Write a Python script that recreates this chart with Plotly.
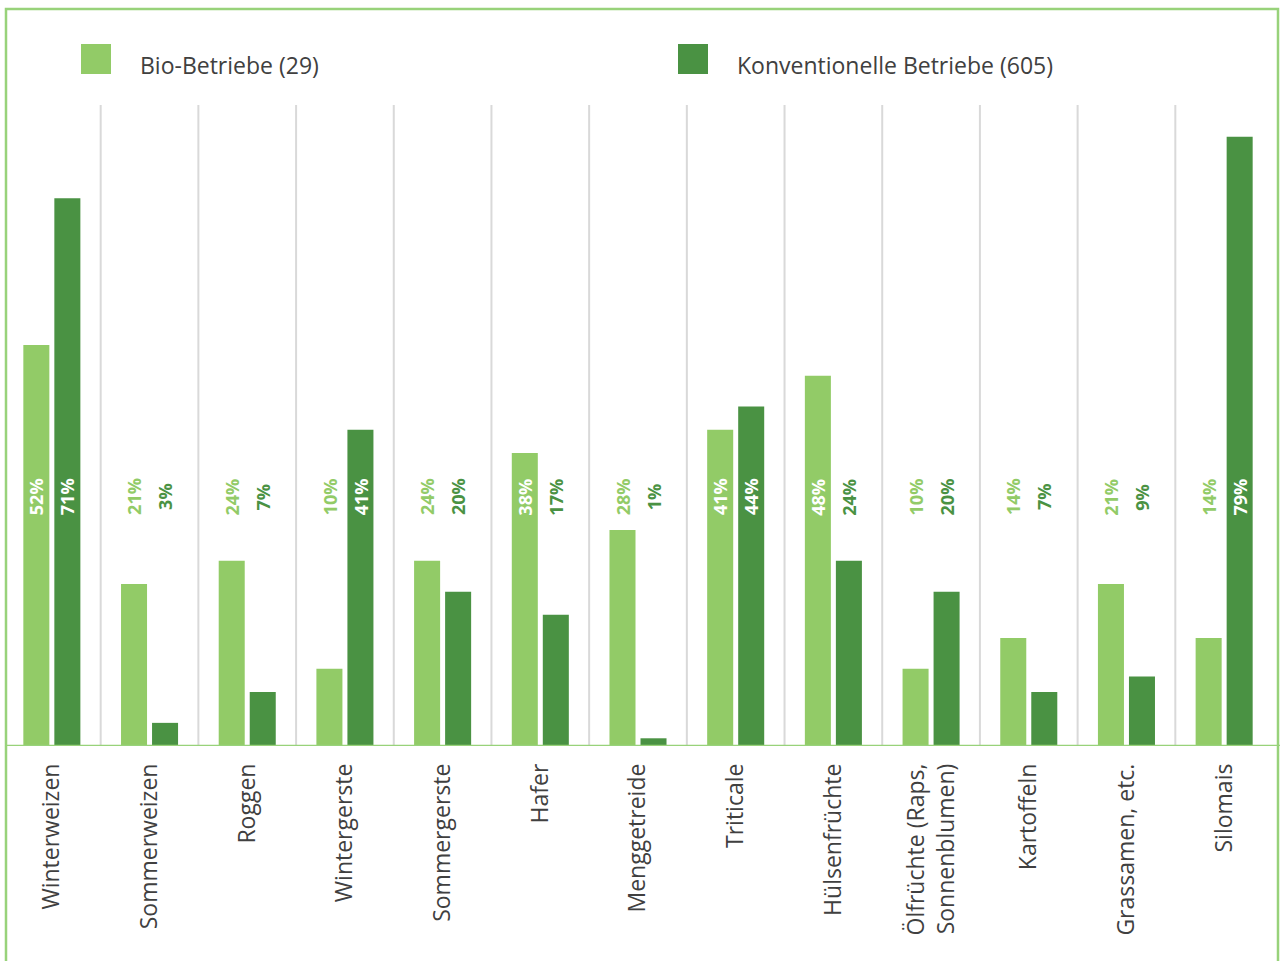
import plotly.graph_objects as go

categories = ["Winterweizen", "Sommerweizen", "Roggen", "Wintergerste", "Sommergerste",
              "Hafer", "Menggetreide", "Triticale", "Hülsenfrüchte",
              "Ölfrüchte (Raps,<br>Sonnenblumen)", "Kartoffeln", "Grassamen, etc.", "Silomais"]
bio = [52, 21, 24, 10, 24, 38, 28, 41, 48, 10, 14, 21, 14]
konv = [71, 3, 7, 41, 20, 17, 1, 44, 24, 20, 7, 9, 79]
series_names = ["Bio-Betriebe (29)", "Konventionelle Betriebe (605)"]

BIO_C = "#92CB67"
KON_C = "#4A9243"
FRAME_C = "#98D27A"
TXT_C = "#404040"
FONT = "Open Sans"

W, H = 1280, 961
L, R, T, B = 3, 7, 105, 215
YMAX = 83.1
LABEL_Y = 32.3

fig = go.Figure()
fig.add_trace(go.Bar(x=categories, y=bio, name=series_names[0], marker_color=BIO_C,
                     marker_line_width=0, showlegend=False))
fig.add_trace(go.Bar(x=categories, y=konv, name=series_names[1], marker_color=KON_C,
                     marker_line_width=0, showlegend=False))

pw = W - L - R
ph = H - T - B
def px_x(p):
    return (p - L) / pw
def px_y(p):
    return (H - B - p) / ph

shapes = []
for i in range(len(categories) - 1):
    shapes.append(dict(type="line", xref="x", yref="y", x0=i + 0.5, x1=i + 0.5, y0=0, y1=YMAX,
                       line=dict(color="#D9D9D9", width=2), layer="below"))
shapes.append(dict(type="line", xref="paper", yref="y", x0=px_x(6), x1=px_x(1280), y0=0, y1=0,
                   line=dict(color=FRAME_C, width=2.5), layer="above"))
shapes.append(dict(type="rect", xref="paper", yref="paper", x0=px_x(6), x1=px_x(1278),
                   y0=px_y(1000), y1=px_y(9), line=dict(color=FRAME_C, width=2.5),
                   fillcolor="rgba(0,0,0,0)", layer="above"))
legend_sq = [(81, BIO_C), (678, KON_C)]
for x0, c in legend_sq:
    shapes.append(dict(type="rect", xref="paper", yref="paper", x0=px_x(x0), x1=px_x(x0 + 30),
                       y0=px_y(74), y1=px_y(44), fillcolor=c, line=dict(width=0)))

annotations = []
legend_tx = [138, 735]
for xt, name in zip(legend_tx, series_names):
    annotations.append(dict(xref="paper", yref="paper", x=px_x(xt), y=px_y(65), text=name,
                            showarrow=False, xanchor="left", yanchor="middle",
                            font=dict(family=FONT, size=23, color=TXT_C)))

thresh = 34.5
for vals, col, shift in [(bio, BIO_C, -15.5), (konv, KON_C, 15.5)]:
    for c, v in zip(categories, vals):
        annotations.append(dict(x=c, y=LABEL_Y, text=f"<b>{v}%</b>", showarrow=False,
                                textangle=-90, xshift=shift, xanchor="center", yanchor="middle",
                                font=dict(family=FONT, size=18,
                                          color="white" if v > thresh else col)))

fig.update_layout(
    width=W, height=H,
    margin=dict(l=L, r=R, t=T, b=B, pad=0),
    paper_bgcolor="white", plot_bgcolor="white",
    barmode="group", bargap=0.365, bargroupgap=0.161,
    shapes=shapes, annotations=annotations,
    xaxis=dict(type="category", showgrid=False, showline=False, zeroline=False,
               tickangle=-90, ticks="", ticklabelstandoff=12,
               tickfont=dict(family=FONT, size=23, color=TXT_C)),
    yaxis=dict(range=[0, YMAX], visible=False, showgrid=False, zeroline=False),
)

fig.write_html("out.html")
